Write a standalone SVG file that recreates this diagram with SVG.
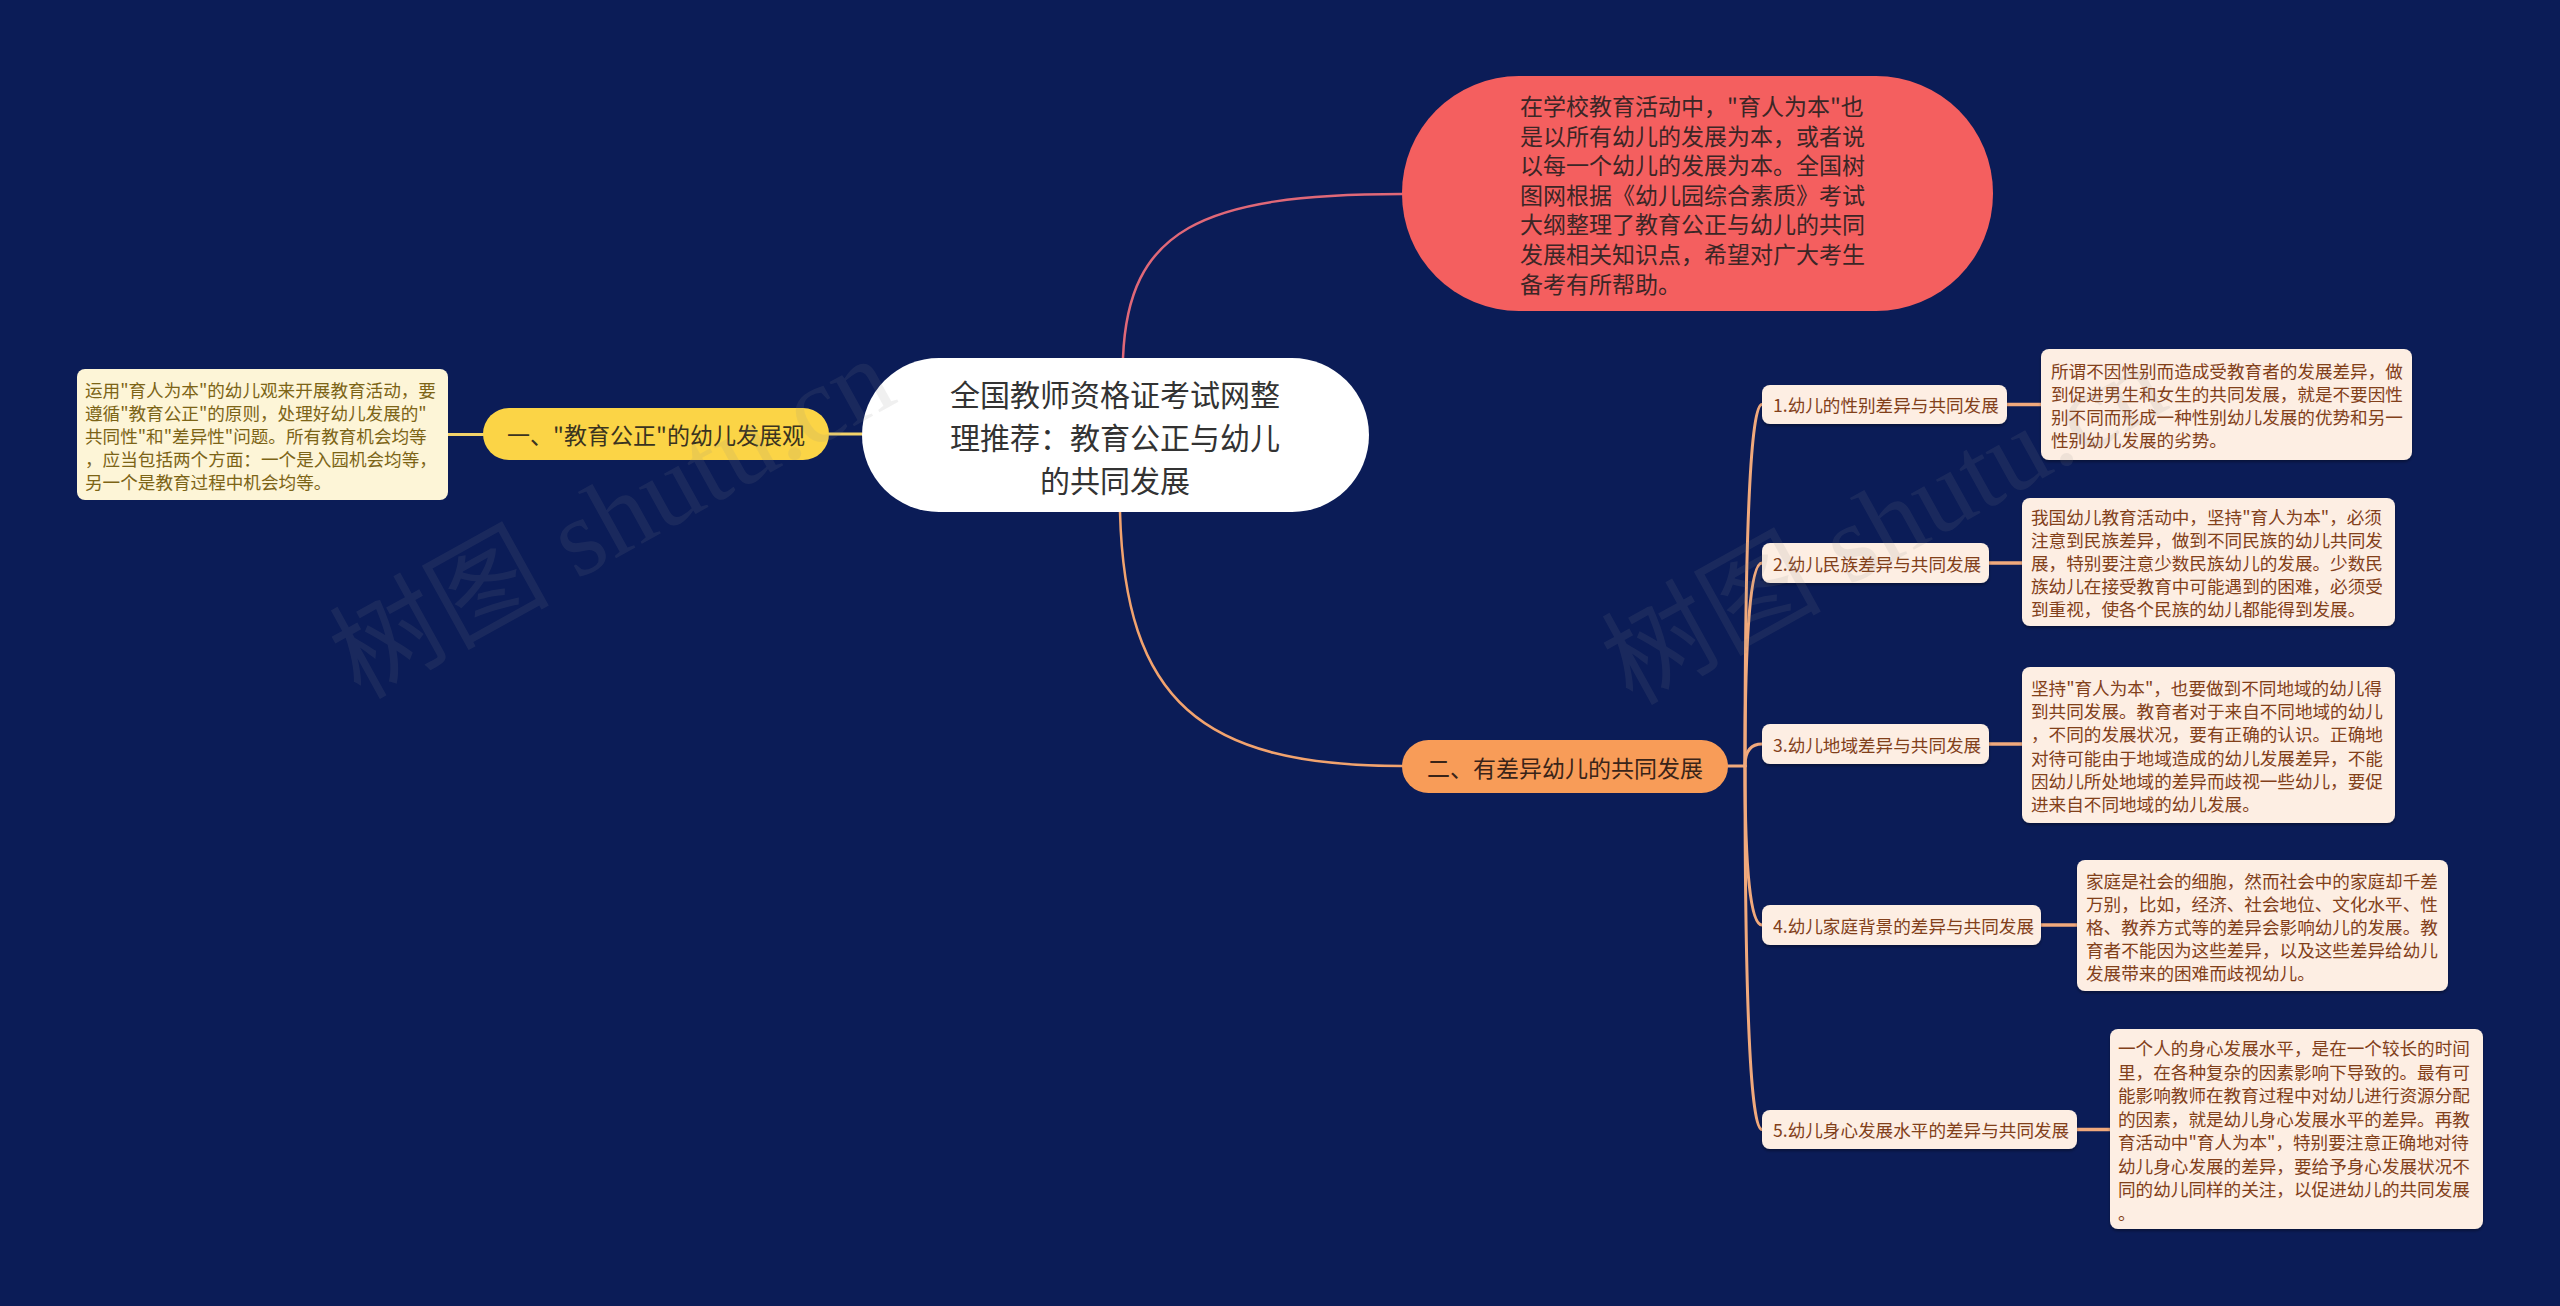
<svg xmlns="http://www.w3.org/2000/svg" width="2560" height="1306" viewBox="0 0 2560 1306">
<defs>
<style>
text{font-family:"Noto Sans CJK SC","Noto Sans",sans-serif;}
.center{font-size:30px;fill:#333333;text-anchor:middle;dominant-baseline:central;}
.main{font-size:23px;dominant-baseline:central;}
.red{fill:#3b2626;}
.yel{fill:#3a3320;text-anchor:middle;}
.org{fill:#3a2418;text-anchor:middle;}
.note{font-size:17.6px;fill:#7c6416;dominant-baseline:central;}
.sub{font-size:17.6px;fill:#82401a;dominant-baseline:central;}
.box{fill:#fdeee3;filter:url(#sh);}
.conn{fill:none;stroke-linecap:round;}
.wm{font-family:"Liberation Serif","Noto Sans CJK SC",serif;font-size:110px;fill:#8a8a8a;opacity:0.12;}
</style>
<filter id="sh" x="-10%" y="-10%" width="120%" height="130%">
<feDropShadow dx="0" dy="2" stdDeviation="1.5" flood-color="#000000" flood-opacity="0.35"/>
</filter>
</defs>
<rect x="0" y="0" width="2560" height="1306" fill="#0b1c57"/>

<g id="connectors">
<path class="conn" d="M448,434.5 H483" stroke="#f3d36a" stroke-width="3"/>
<path class="conn" d="M829,434 H862" stroke="#f3d36a" stroke-width="3"/>
<path class="conn" d="M1123,358 C1128,230 1200,194 1402,194" stroke="#e06878" stroke-width="2.5"/>
<path class="conn" d="M1120,512 C1125,700 1200,766 1402,766" stroke="#f2a36e" stroke-width="2.5"/>
<path class="conn" d="M1728,766 H1745" stroke="#f1a97c" stroke-width="3"/>
<path class="conn" d="M1745,766 Q1745,404.5 1762,404.5" stroke="#f1a97c" stroke-width="3"/>
<path class="conn" d="M1745,766 Q1745,563 1762,563" stroke="#f1a97c" stroke-width="3"/>
<path class="conn" d="M1745,766 Q1745,744 1762,744" stroke="#f1a97c" stroke-width="3"/>
<path class="conn" d="M1745,766 Q1745,925 1762,925" stroke="#f1a97c" stroke-width="3"/>
<path class="conn" d="M1745,766 Q1745,1129.5 1762,1129.5" stroke="#f1a97c" stroke-width="3"/>
<path class="conn" d="M2007,404.5 H2041" stroke="#f1a97c" stroke-width="3.5"/>
<path class="conn" d="M1989,563 H2022" stroke="#f1a97c" stroke-width="3.5"/>
<path class="conn" d="M1989,744 H2022" stroke="#f1a97c" stroke-width="3.5"/>
<path class="conn" d="M2041,925 H2077" stroke="#f1a97c" stroke-width="3.5"/>
<path class="conn" d="M2077,1129.5 H2110" stroke="#f1a97c" stroke-width="3.5"/>
</g>

<g id="center">
<rect x="862" y="358" width="507" height="154" rx="77" fill="#ffffff"/>
<text class="center"><tspan x="1115" y="393">全国教师资格证考试网整</tspan><tspan x="1115" y="436">理推荐：教育公正与幼儿</tspan><tspan x="1115" y="479">的共同发展</tspan></text>
</g>

<g id="intro">
<rect x="1402" y="76" width="591" height="235" rx="117" fill="#f45f5f"/>
<text class="main red"><tspan x="1520" y="105">在学校教育活动中，"育人为本"也</tspan><tspan x="1520" y="134.6">是以所有幼儿的发展为本，或者说</tspan><tspan x="1520" y="164.2">以每一个幼儿的发展为本。全国树</tspan><tspan x="1520" y="193.8">图网根据《幼儿园综合素质》考试</tspan><tspan x="1520" y="223.4">大纲整理了教育公正与幼儿的共同</tspan><tspan x="1520" y="253">发展相关知识点，希望对广大考生</tspan><tspan x="1520" y="282.6">备考有所帮助。</tspan></text>
</g>

<g id="branch1">
<rect x="483" y="408" width="346" height="52" rx="26" fill="#fbd446"/>
<text class="main yel" x="656" y="434">一、"教育公正"的幼儿发展观</text>
</g>

<g id="note1">
<rect x="77" y="369" width="371" height="131" rx="8" fill="#fdf5d7"/>
<text class="note"><tspan x="85" y="388.5">运用"育人为本"的幼儿观来开展教育活动，要</tspan><tspan x="85" y="411.5">遵循"教育公正"的原则，处理好幼儿发展的"</tspan><tspan x="85" y="434.5">共同性"和"差异性"问题。所有教育机会均等</tspan><tspan x="85" y="457.5">，应当包括两个方面：一个是入园机会均等，</tspan><tspan x="85" y="480.5">另一个是教育过程中机会均等。</tspan></text>
</g>

<g id="branch2">
<rect x="1402" y="740" width="326" height="53" rx="26.5" fill="#f89c58"/>
<text class="main org" x="1565" y="766.5">二、有差异幼儿的共同发展</text>
</g>

<g id="sub1">
<rect class="box" x="1762" y="385" width="245" height="39" rx="8"/>
<text class="sub" x="1773" y="404.5">1.幼儿的性别差异与共同发展</text>
</g>
<g id="detail1">
<rect class="box" x="2041" y="349" width="371" height="111" rx="8"/>
<text class="sub"><tspan x="2051" y="369.5">所谓不因性别而造成受教育者的发展差异，做</tspan><tspan x="2051" y="392.8">到促进男生和女生的共同发展，就是不要因性</tspan><tspan x="2051" y="416.1">别不同而形成一种性别幼儿发展的优势和另一</tspan><tspan x="2051" y="439.4">性别幼儿发展的劣势。</tspan></text>
</g>

<g id="sub2">
<rect class="box" x="1762" y="543" width="227" height="40" rx="8"/>
<text class="sub" x="1773" y="563">2.幼儿民族差异与共同发展</text>
</g>
<g id="detail2">
<rect class="box" x="2022" y="498" width="373" height="128" rx="8"/>
<text class="sub"><tspan x="2031" y="516">我国幼儿教育活动中，坚持"育人为本"，必须</tspan><tspan x="2031" y="539">注意到民族差异，做到不同民族的幼儿共同发</tspan><tspan x="2031" y="562">展，特别要注意少数民族幼儿的发展。少数民</tspan><tspan x="2031" y="585">族幼儿在接受教育中可能遇到的困难，必须受</tspan><tspan x="2031" y="608">到重视，使各个民族的幼儿都能得到发展。</tspan></text>
</g>

<g id="sub3">
<rect class="box" x="1762" y="724" width="227" height="40" rx="8"/>
<text class="sub" x="1773" y="744">3.幼儿地域差异与共同发展</text>
</g>
<g id="detail3">
<rect class="box" x="2022" y="667" width="373" height="156" rx="8"/>
<text class="sub"><tspan x="2031" y="687">坚持"育人为本"，也要做到不同地域的幼儿得</tspan><tspan x="2031" y="710.2">到共同发展。教育者对于来自不同地域的幼儿</tspan><tspan x="2031" y="733.4">，不同的发展状况，要有正确的认识。正确地</tspan><tspan x="2031" y="756.6">对待可能由于地域造成的幼儿发展差异，不能</tspan><tspan x="2031" y="779.8">因幼儿所处地域的差异而歧视一些幼儿，要促</tspan><tspan x="2031" y="803">进来自不同地域的幼儿发展。</tspan></text>
</g>

<g id="sub4">
<rect class="box" x="1762" y="905" width="279" height="40" rx="8"/>
<text class="sub" x="1773" y="925">4.幼儿家庭背景的差异与共同发展</text>
</g>
<g id="detail4">
<rect class="box" x="2077" y="860" width="371" height="131" rx="8"/>
<text class="sub"><tspan x="2086" y="879.5">家庭是社会的细胞，然而社会中的家庭却千差</tspan><tspan x="2086" y="902.5">万别，比如，经济、社会地位、文化水平、性</tspan><tspan x="2086" y="925.5">格、教养方式等的差异会影响幼儿的发展。教</tspan><tspan x="2086" y="948.5">育者不能因为这些差异，以及这些差异给幼儿</tspan><tspan x="2086" y="971.5">发展带来的困难而歧视幼儿。</tspan></text>
</g>

<g id="sub5">
<rect class="box" x="1762" y="1110" width="315" height="39" rx="8"/>
<text class="sub" x="1773" y="1129.5">5.幼儿身心发展水平的差异与共同发展</text>
</g>
<g id="detail5">
<rect class="box" x="2110" y="1029" width="373" height="200" rx="8"/>
<text class="sub"><tspan x="2118" y="1047">一个人的身心发展水平，是在一个较长的时间</tspan><tspan x="2118" y="1070.5">里，在各种复杂的因素影响下导致的。最有可</tspan><tspan x="2118" y="1094">能影响教师在教育过程中对幼儿进行资源分配</tspan><tspan x="2118" y="1117.5">的因素，就是幼儿身心发展水平的差异。再教</tspan><tspan x="2118" y="1141">育活动中"育人为本"，特别要注意正确地对待</tspan><tspan x="2118" y="1164.5">幼儿身心发展的差异，要给予身心发展状况不</tspan><tspan x="2118" y="1188">同的幼儿同样的关注，以促进幼儿的共同发展</tspan><tspan x="2118" y="1211.5">。</tspan></text>
</g>

<g id="watermarks">
<text class="wm" transform="translate(360,700) rotate(-29)">树图 shutu.cn</text>
<text class="wm" transform="translate(1632,706) rotate(-29)">树图 shutu.cn</text>
</g>
</svg>
